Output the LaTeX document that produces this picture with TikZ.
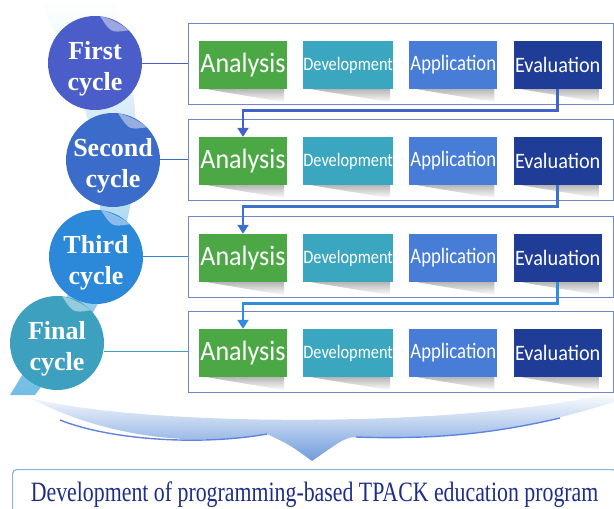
\documentclass[tikz,border=0pt]{standalone}
\usepackage{fontspec}
\setmainfont{Liberation Serif}
\setsansfont{Carlito}
\usetikzlibrary{positioning,calc,arrows.meta}

\definecolor{ana}{HTML}{4BA845}
\definecolor{dev}{HTML}{3BA6BF}
\definecolor{app}{HTML}{477DD6}
\definecolor{eva}{HTML}{1F3C97}
\definecolor{cyA}{HTML}{4B5DC9}
\definecolor{cyB}{HTML}{3C6CC9}
\definecolor{cyC}{HTML}{2C88D8}
\definecolor{cyD}{HTML}{3EA0BF}
\definecolor{arrA}{HTML}{4062C9}
\definecolor{arrB}{HTML}{3A72CC}
\definecolor{arrC}{HTML}{2E8EDB}
\definecolor{frame}{HTML}{7088C9}
\definecolor{ribbon}{HTML}{5AB2E0}
\definecolor{bowl}{HTML}{6F9BDB}
\definecolor{goalline}{HTML}{8DB3D6}
\definecolor{goal}{HTML}{1E2E88}

% squeezed step label: xscale, size, text
\newcommand\sq[3]{\scalebox{#1}[1]{\fontsize{#2}{#2}\selectfont #3}}
% folded corner on a cycle disc
\newcommand\peel[2]{%
  \fill[#2!55!white] (#1.84) .. controls (#1.74) and (#1.56) .. (#1.44)
    .. controls ($(#1.center)!0.72!(#1.62)$) .. (#1.84) -- cycle;}

\begin{document}
\begin{tikzpicture}[x=1pt,y=-1pt,
  stepbox/.style={minimum width=88pt,minimum height=48pt,inner sep=0pt,text=white,font=\sffamily},
  rowbox/.style={draw=frame,line width=0.8pt,fill=white,minimum width=425pt,minimum height=81pt,inner sep=0pt},
  cyc/.style={circle,minimum size=94pt,inner sep=0pt},
  cyctext/.style={text=white,align=center,font=\fontsize{26}{31}\selectfont\bfseries},
  flow/.style={line width=2.8pt,-{Triangle[width=11pt,length=9pt]}},
  link/.style={line width=1pt},
  goalbox/.style={draw=goalline,line width=1.2pt,rounded corners=4pt,inner sep=0pt,text=goal}]

\useasboundingbox (0,0) rectangle (614,509);

% ribbon behind the cycles
\shade[top color=white,bottom color=ribbon,opacity=0.85]
  plot[smooth] coordinates {(40,0) (85,110) (100,207) (65,300) (10,395)}
  -- plot[smooth] coordinates {(35,395) (100,300) (130,207) (135,110) (115,0)} -- cycle;

% bowl with arrow
\shade[top color=white,bottom color=bowl]
  (30,398) .. controls (150,428) and (470,428) .. (614,392) -- (614,402)
  .. controls (540,425) and (470,440) .. (356,437)
  .. controls (345,438) .. (312,461)
  .. controls (290,445) .. (267,434)
  .. controls (200,446) and (110,440) .. (30,398) -- cycle;
\draw[bowl!85!blue,line width=1.4pt]
  (60,420) .. controls (110,440) and (200,446) .. (267,434);
\draw[bowl!85!blue,line width=1.4pt]
  (356,437) .. controls (440,440) and (500,432) .. (560,418);

% cycle rows
\foreach \i/\y in {1/65,2/161,3/258,4/353} {
  \node[rowbox] (r\i) at (400.5,\y-1.5) {};
  \node[stepbox,fill=ana] (a\i) at (243,\y) {\sq{0.93}{28}{Analysis}};
  \node[stepbox,fill=dev,right=16pt of a\i] (d\i) {\sq{0.86}{19}{Development}};
  \node[stepbox,fill=app,right=16pt of d\i] (p\i) {\sq{0.85}{22}{Application}};
  \node[stepbox,fill=eva,right=16pt of p\i] (e\i) {\sq{0.92}{22}{Evaluation}};
  \foreach \n in {a,d,p,e}
    \shade[top color=black!28,bottom color=white]
      ([xshift=8pt]\n\i.south west) -- ([xshift=-3pt]\n\i.south east)
      -- ([xshift=-3pt,yshift=-13pt]\n\i.south east) -- cycle;
}

% feedback from evaluation to next analysis
\foreach \i/\j/\k in {1/2/arrA,2/3/arrB,3/4/arrC} {
  \coordinate (k\i) at ($(r\i.south)+(0,6)$);
  \draw[flow,\k] (e\i.south) |- (k\i) -| (a\j.north);
}

% cycles
\coordinate (c1) at (95,63);
\coordinate (c2) at (113,160);
\coordinate (c3) at (96,257);
\coordinate (c4) at (57,343);
\foreach \i/\k/\t in {1/cyA/First,2/cyB/Second,3/cyC/Third,4/cyD/Final} {
  \node[cyc,fill=\k] (o\i) at (c\i) {};
  \draw[link,\k] (o\i.east |- r\i.west) -- (r\i.west);
  \peel{o\i}{\k}
  \node[cyctext] at ([yshift=-6pt]o\i.center) {\t\\cycle};
}

% result
\node[goalbox,minimum width=604pt,minimum height=50pt,anchor=north west] (goal) at (12,469)
  {\scalebox{0.78}[1]{\fontsize{28}{28}\selectfont Development of programming-based TPACK education program}};
\end{tikzpicture}
\end{document}
